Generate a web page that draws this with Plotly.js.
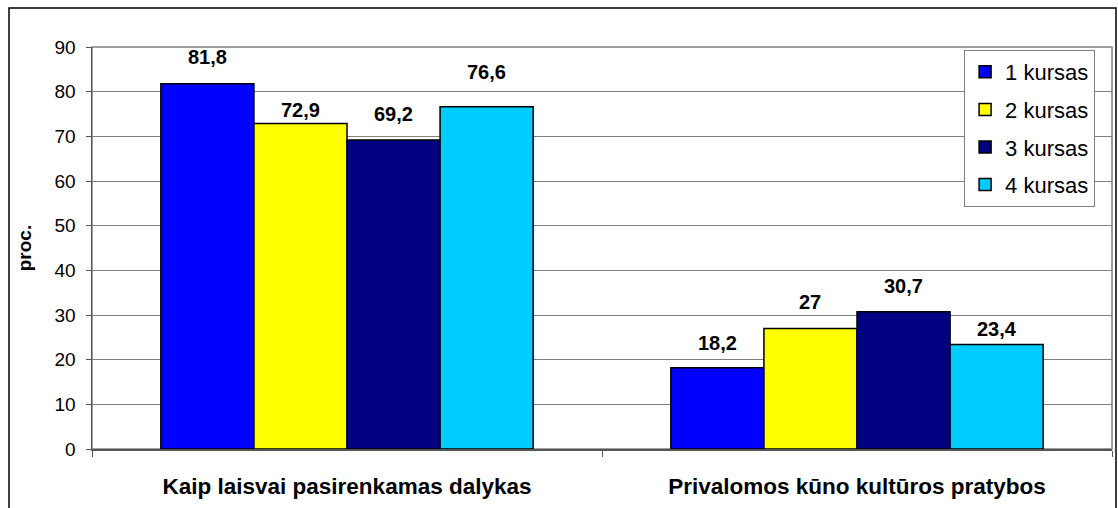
<!DOCTYPE html>
<html>
<head>
<meta charset="utf-8">
<script src="https://cdn.plot.ly/plotly-3.0.1.min.js"></script>
<style>
html,body{margin:0;padding:0;background:#fff;}
#chart{width:1118px;height:508px;}
</style>
</head>
<body>
<div id="chart"></div>
<script>
var categories = ["Kaip laisvai pasirenkamas dalykas", "Privalomos kūno kultūros pratybos"];
var seriesNames = ["1 kursas", "2 kursas", "3 kursas", "4 kursas"];
var kursas1 = [81.8, 18.2];
var kursas2 = [72.9, 27];
var kursas3 = [69.2, 30.7];
var kursas4 = [76.6, 23.4];
var yTicks = [0, 10, 20, 30, 40, 50, 60, 70, 80, 90];

var seriesValues = [kursas1, kursas2, kursas3, kursas4];
var colors = ["#0000FF", "#FFFF00", "#000080", "#00CCFF"];
var FONT = "Liberation Sans, Arial, sans-serif";

// styling: vertical distance (px) of each data label above its bar, as placed in the original
var labelLift = [[27, 25], [13, 26], [26, 26], [35, 15]];

var M = {l: 92, r: 6, t: 47, b: 59};
var W = 1118, H = 508;
var BARGAP = 0.27;
var plotW = W - M.l - M.r;
var barPx = plotW / categories.length * (1 - BARGAP) / seriesValues.length;

function fmt(v){ return String(v).replace('.', ','); }

var traces = seriesValues.map(function(vals, i){
  return {
    type: 'bar',
    name: seriesNames[i],
    x: categories,
    y: vals,
    legendgroup: 'g' + i,
    marker: {color: colors[i], line: {color: '#000000', width: 1.5}},
    hoverinfo: 'x+y'
  };
});

var annotations = [];
seriesValues.forEach(function(vals, i){
  vals.forEach(function(v, j){
    annotations.push({
      x: categories[j], y: v, xref: 'x', yref: 'y',
      text: '<b>' + fmt(v) + '</b>',
      showarrow: false,
      xanchor: 'center', yanchor: 'middle',
      xshift: (i - (seriesValues.length - 1) / 2) * barPx,
      yshift: labelLift[i][j],
      font: {family: FONT, size: 20, color: '#000000'}
    });
  });
});

var layout = {
  width: W,
  height: H,
  margin: M,
  paper_bgcolor: '#ffffff',
  plot_bgcolor: '#ffffff',
  barmode: 'group',
  bargap: BARGAP,
  bargroupgap: 0,
  separators: ', ',
  font: {family: FONT, color: '#000000'},
  xaxis: {
    type: 'category',
    tickson: 'boundaries',
    ticks: 'outside',
    ticklen: 6,
    tickcolor: '#555555',
    showline: true,
    linecolor: '#555555',
    linewidth: 1.5,
    showgrid: false,
    tickfont: {family: FONT, size: 22.5, color: '#000000', weight: 'bold'},
    ticklabelstandoff: 16,
    automargin: false
  },
  yaxis: {
    range: [0, 90],
    tickvals: yTicks,
    ticktext: yTicks.map(String),
    ticks: 'outside',
    ticklen: 5,
    tickcolor: '#555555',
    showline: true,
    linecolor: '#555555',
    linewidth: 1.5,
    showgrid: true,
    gridcolor: '#808080',
    gridwidth: 1,
    zeroline: false,
    tickfont: {family: FONT, size: 19, color: '#000000'},
    ticklabelstandoff: 6,
    automargin: false,
    title: {text: '<b>proc.</b>', font: {family: FONT, size: 19, color: '#000000'}, standoff: 18}
  },
  legend: {
    x: 0.855, y: 0.9925,
    xanchor: 'left', yanchor: 'top',
    bgcolor: '#ffffff',
    bordercolor: '#808080',
    borderwidth: 1,
    font: {family: FONT, size: 22, color: '#000000'},
    tracegroupgap: 6,
    traceorder: 'grouped'
  },
  annotations: annotations,
  shapes: [
    {type: 'rect', xref: 'paper', yref: 'paper', x0: 0, x1: 1, y0: 0, y1: 1,
     line: {color: '#808080', width: 1.5}, layer: 'below'},
    {type: 'rect', xref: 'paper', yref: 'paper',
     x0: (9 - M.l) / plotW, x1: (1116 - M.l) / plotW,
     y0: (H - M.b - 530) / (H - M.t - M.b), y1: (H - M.b - 8) / (H - M.t - M.b),
     line: {color: '#000000', width: 1.5}}
  ]
};

Plotly.newPlot('chart', traces, layout, {displayModeBar: false, staticPlot: true});
</script>
</body>
</html>
